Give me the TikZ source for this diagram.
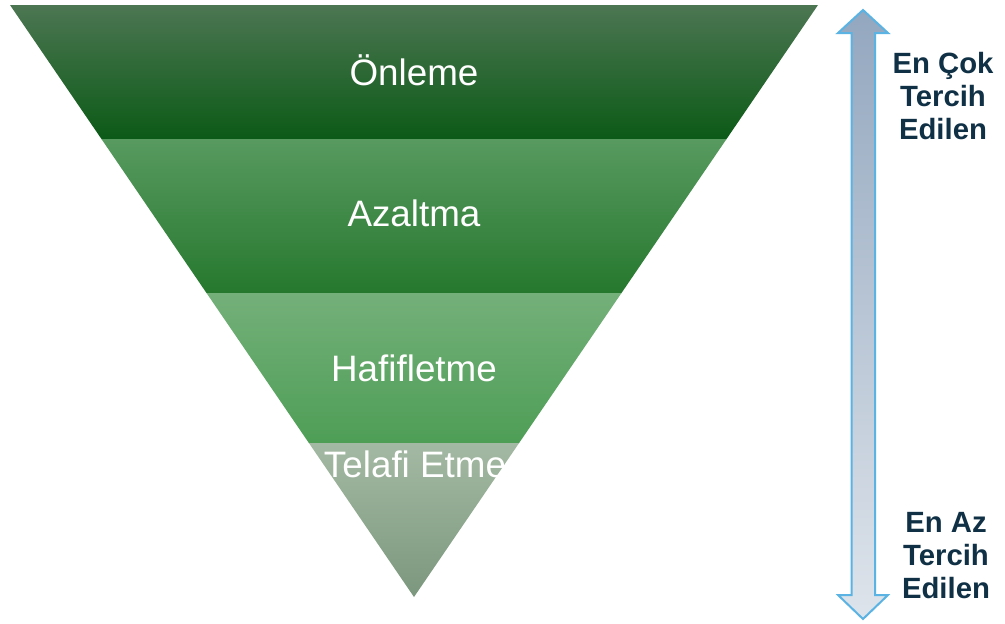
\documentclass[tikz,border=0pt]{standalone}
\usepackage{fontspec}
\setmainfont{Liberation Sans}
\begin{document}
\begin{tikzpicture}[x=1pt,y=-1pt,
  bandtext/.style={text=white,font=\fontsize{36.8}{42}\selectfont,inner sep=0pt,anchor=base},
  sidetext/.style={text=sidecol,font=\bfseries\fontsize{29.3}{33}\selectfont,align=center,inner sep=0pt}]
\definecolor{sidecol}{HTML}{0F3045}
\definecolor{arrowline}{HTML}{5AB3E3}
\useasboundingbox (0,0) rectangle (1005,624);
% bands
\shade[top color={rgb,255:red,76;green,118;blue,82},middle color={rgb,255:red,23;green,102;blue,31},bottom color={rgb,255:red,12;green,90;blue,23}]
  (10,5) -- (818,5) -- (726.55,139) -- (101.45,139) -- cycle;
\shade[top color={rgb,255:red,88;green,154;blue,96},middle color={rgb,255:red,46;green,139;blue,58},bottom color={rgb,255:red,38;green,120;blue,46}]
  (101.45,139) -- (726.55,139) -- (621.5,293) -- (206.5,293) -- cycle;
\shade[top color={rgb,255:red,116;green,176;blue,122},bottom color={rgb,255:red,78;green,158;blue,86}]
  (206.5,293) -- (621.5,293) -- (519.1,443) -- (308.9,443) -- cycle;
\shade[top color={rgb,255:red,164;green,185;blue,163},middle color={rgb,255:red,151;green,174;blue,150},bottom color={rgb,255:red,123;green,151;blue,125}]
  (308.9,443) -- (519.1,443) -- (414,597) -- cycle;
% band labels
\node[bandtext] (onleme) at (414,85) {Önleme};
\node[bandtext] (azaltma) at (414,226) {Azaltma};
\node[bandtext] (hafifletme) at (414,381) {Hafifletme};
\node[bandtext] (telafi) at (415,477) {Telafi Etme};
% double arrow
\shade[top color={rgb,255:red,147;green,167;blue,191},bottom color={rgb,255:red,222;green,228;blue,235}]
  (863,10) -- (888,33) -- (875,33) -- (875,595) -- (888,595) -- (863,619) -- (838,595) -- (851.5,595) -- (851.5,33) -- (838,33) -- cycle;
\draw[arrowline,line width=2pt,line join=miter]
  (863,10) -- (888,33) -- (875,33) -- (875,595) -- (888,595) -- (863,619) -- (838,595) -- (851.5,595) -- (851.5,33) -- (838,33) -- cycle;
% side labels
\node[sidetext] (most) at (943,96) {En Çok\\Tercih\\Edilen};
\node[sidetext] (least) at (946,556) {En Az\\Tercih\\Edilen};
\end{tikzpicture}
\end{document}
